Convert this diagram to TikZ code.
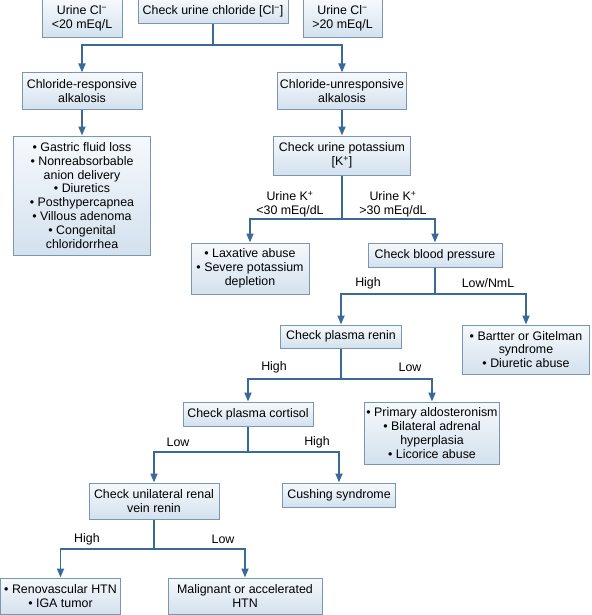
\documentclass[tikz,border=0pt]{standalone}
\usepackage{fontspec}
\setmainfont{Liberation Sans}
\usetikzlibrary{arrows.meta}
\definecolor{boxtop}{HTML}{F6F9FC}
\definecolor{boxbot}{HTML}{D3E1EE}
\definecolor{boxline}{HTML}{7A96B4}
\definecolor{arrowc}{HTML}{3A6B98}
\begin{document}
\begin{tikzpicture}[x=1pt,y=-1pt,
  box/.style={draw=boxline, line width=1pt, top color=boxtop, bottom color=boxbot,
    align=center, inner sep=0pt, font=\fontsize{12.4}{13.9}\selectfont},
  lbl/.style={align=center, inner sep=0pt, font=\fontsize{12.4}{13.9}\selectfont},
  conn/.style={draw=arrowc, line width=1.8pt},
  arr/.style={conn, -{Triangle[length=9pt,width=7pt]}}]
\useasboundingbox[fill=white] (0,0) rectangle (591,615);
% boxes
\node[box, minimum width=80pt, minimum height=39pt] (clL) at (82,18.5) {Urine Cl\textsuperscript{−}\\<20 mEq/L};
\node[box, minimum width=150pt, minimum height=25pt] (chk) at (213,11.5) {Check urine chloride [Cl\textsuperscript{−}]};
\node[box, minimum width=79pt, minimum height=39pt] (clR) at (342.5,18.5) {Urine Cl\textsuperscript{−}\\>20 mEq/L};
\node[box, minimum width=120pt, minimum height=37pt] (resp) at (82,91.5) {Chloride-responsive\\alkalosis};
\node[box, minimum width=129pt, minimum height=37pt] (unresp) at (342,91.5) {Chloride-unresponsive\\alkalosis};
\node[box, minimum width=137pt, minimum height=119pt] (list1) at (82,195.5) {• Gastric fluid loss\\• Nonreabsorbable\\anion delivery\\• Diuretics\\• Posthypercapnea\\• Villous adenoma\\• Congenital\\chloridorrhea};
\node[box, minimum width=137pt, minimum height=39pt] (pot) at (342,155.5) {Check urine potassium\\{}[K\textsuperscript{+}]};
\node[box, minimum width=118pt, minimum height=51pt] (lax) at (250,268.5) {• Laxative abuse\\• Severe potassium\\depletion};
\node[box, minimum width=134pt, minimum height=24pt] (bp) at (435,255) {Check blood pressure};
\node[box, minimum width=121pt, minimum height=23pt] (renin) at (341,336.5) {Check plasma renin};
\node[box, minimum width=127pt, minimum height=49pt] (bart) at (526,349.5) {• Bartter or Gitelman\\syndrome\\• Diuretic abuse};
\node[box, minimum width=130pt, minimum height=24pt] (cort) at (248,414) {Check plasma cortisol};
\node[box, minimum width=135pt, minimum height=62pt] (aldo) at (432,433) {• Primary aldosteronism\\• Bilateral adrenal\\hyperplasia\\• Licorice abuse};
\node[box, minimum width=130pt, minimum height=36pt] (uni) at (154,501) {Check unilateral renal\\vein renin};
\node[box, minimum width=113pt, minimum height=24pt] (cush) at (339,495) {Cushing syndrome};
\node[box, minimum width=120pt, minimum height=36pt] (reno) at (60.5,596) {• Renovascular HTN\\• IGA tumor};
\node[box, minimum width=154pt, minimum height=36pt] (malig) at (245,596) {Malignant or accelerated\\HTN};
% labels
\node[lbl] (lk1) at (290,204) {Urine K\textsuperscript{+}\\<30 mEq/dL};
\node[lbl] (lk2) at (393,204) {Urine K\textsuperscript{+}\\>30 mEq/dL};
\node[lbl] (lh1) at (368,283.5) {High};
\node[lbl] (ll1) at (488,283.5) {Low/NmL};
\node[lbl] (lh2) at (274,367.5) {High};
\node[lbl] (ll2) at (410,367.5) {Low};
\node[lbl] (ll3) at (178,442.5) {Low};
\node[lbl] (lh3) at (317,442.5) {High};
\node[lbl] (lh4) at (87,539.5) {High};
\node[lbl] (ll4) at (223,539.5) {Low};
% branch points
\coordinate (s1) at (213,45);
\coordinate (s2) at (342,219);
\coordinate (s3) at (435,294);
\coordinate (s4) at (341,379);
\coordinate (s5) at (248,452);
\coordinate (s6) at (154,549);
% connectors
\draw[conn] (chk.south) -- (s1);
\draw[arr] (s1) -| (resp.north);
\draw[arr] (s1) -| (unresp.north);
\draw[arr] (resp.south) -- (list1.north);
\draw[arr] (unresp.south) -- (pot.north);
\draw[conn] (pot.south) -- (s2);
\draw[arr] (s2) -| (lax.north);
\draw[arr] (s2) -| (bp.north);
\draw[conn] (bp.south) -- (s3);
\draw[arr] (s3) -| (renin.north);
\draw[arr] (s3) -| (bart.north);
\draw[conn] (renin.south) -- (s4);
\draw[arr] (s4) -| (cort.north);
\draw[arr] (s4) -| (aldo.north);
\draw[conn] (cort.south) -- (s5);
\draw[arr] (s5) -| (uni.north);
\draw[arr] (s5) -| (cush.north);
\draw[conn] (uni.south) -- (s6);
\draw[arr] (s6) -| (reno.north);
\draw[arr] (s6) -| (malig.north);
\end{tikzpicture}
\end{document}
